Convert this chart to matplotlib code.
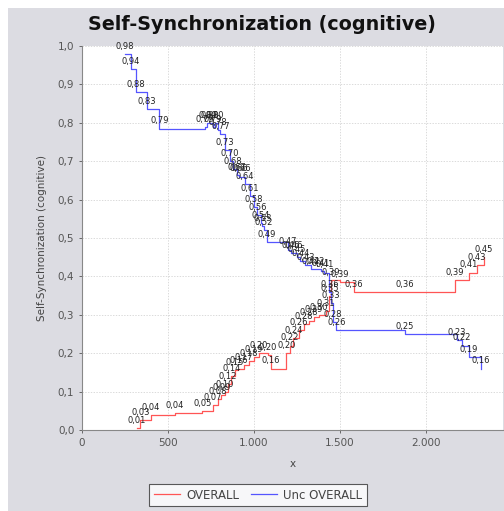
import numpy as np
import matplotlib
matplotlib.use("Agg")
from matplotlib import pyplot as plt
from matplotlib.patches import Rectangle
from matplotlib.ticker import FuncFormatter

# OVERALL (red)
overall_x = [320, 340, 400, 540, 700, 760, 790, 810, 830, 850, 870, 890, 910, 940,
             970, 1000, 1030, 1080, 1100, 1190, 1210, 1230, 1260, 1290, 1320, 1350,
             1380, 1420, 1440, 1450, 1500, 1580, 1880, 2170, 2250, 2300, 2340]
overall_y = [0.005, 0.025, 0.04, 0.045, 0.05, 0.065, 0.08, 0.09, 0.10, 0.12, 0.14,
             0.155, 0.16, 0.17, 0.18, 0.19, 0.20, 0.195, 0.16, 0.20, 0.22, 0.24,
             0.26, 0.275, 0.285, 0.295, 0.30, 0.31, 0.35, 0.39, 0.385, 0.36, 0.36,
             0.39, 0.41, 0.43, 0.45]

# Unc OVERALL (blue)
unc_x = [250, 285, 315, 378, 450, 715, 730, 745, 760, 775, 790, 805, 830, 860, 880,
         900, 915, 930, 950, 975, 1000, 1020, 1040, 1050, 1060, 1075, 1200, 1215,
         1230, 1250, 1270, 1300, 1330, 1360, 1390, 1410, 1440, 1450, 1460, 1480,
         1880, 2180, 2210, 2250, 2320]
unc_y = [0.98, 0.94, 0.88, 0.835, 0.785, 0.79, 0.80, 0.80, 0.79, 0.80, 0.78, 0.77,
         0.73, 0.70, 0.68, 0.665, 0.66, 0.66, 0.64, 0.61, 0.58, 0.56, 0.54, 0.53,
         0.52, 0.49, 0.47, 0.46, 0.46, 0.45, 0.44, 0.43, 0.42, 0.42, 0.415, 0.41,
         0.36, 0.33, 0.28, 0.26, 0.25, 0.235, 0.22, 0.19, 0.16]

series_names = ["OVERALL", "Unc OVERALL"]
title = "Self-Synchronization (cognitive)"

W, H = 504, 511
fig = plt.figure(figsize=(W / 100, H / 100), dpi=100, facecolor="white")
fig.patches.append(Rectangle((8 / W, 0), 1 - 8 / W, 1 - 8 / H, transform=fig.transFigure,
                             facecolor="#dcdce2", edgecolor="none", zorder=-10))

ax = fig.add_axes([82 / W, 1 - 430 / H, (503 - 82) / W, (430 - 46) / H])
ax.set_facecolor("white")

ax.step(overall_x, overall_y, where="post", color="#ff5555", lw=0.9, label=series_names[0])
ax.step(unc_x, unc_y, where="post", color="#5555ff", lw=0.9, label=series_names[1])

def lab(v):
    return ("%.2f" % v).replace(".", ",")

for xs, ys in [(overall_x, overall_y), (unc_x, unc_y)]:
    for x, y in zip(xs, ys):
        ax.text(x, y + 0.008, lab(y), fontsize=6, ha="center", va="bottom",
                color="#222222")

ax.set_xlim(0, 2450)
ax.set_ylim(0, 1.0)
ax.set_xticks([0, 500, 1000, 1500, 2000])
ax.set_yticks(np.arange(0, 1.01, 0.1))
ax.xaxis.set_major_formatter(FuncFormatter(lambda v, p: "{:,.0f}".format(v).replace(",", ".")))
ax.yaxis.set_major_formatter(FuncFormatter(lambda v, p: ("%.1f" % v).replace(".", ",")))
ax.tick_params(labelsize=7.5, colors="#555555", length=2, width=0.6)
ax.grid(True, color="#cccccc", lw=0.5, ls=(0, (2, 2)))
for s in ["top", "right"]:
    ax.spines[s].set_visible(False)
for s in ["left", "bottom"]:
    ax.spines[s].set_color("#888888")
    ax.spines[s].set_linewidth(0.8)

ax.set_ylabel(title, fontsize=7.5, color="#444444", labelpad=8)
ax.set_xlabel("x", fontsize=7.5, color="#444444", labelpad=8)

fig.text(262 / W, 1 - 25 / H, title, fontsize=13.8, fontweight="bold", ha="center",
         va="center", color="#111111")

leg = fig.legend(loc="center", bbox_to_anchor=(258 / W, 1 - 495 / H), ncol=2,
                 fontsize=8.5, frameon=True, fancybox=False, handlelength=2.2,
                 columnspacing=1.0, borderpad=0.4, handletextpad=0.5)
leg.get_frame().set_edgecolor("#333333")
leg.get_frame().set_linewidth(0.8)
for t in leg.get_texts():
    t.set_color("#444444")

fig.savefig("out.png", dpi=100, facecolor=fig.get_facecolor())
